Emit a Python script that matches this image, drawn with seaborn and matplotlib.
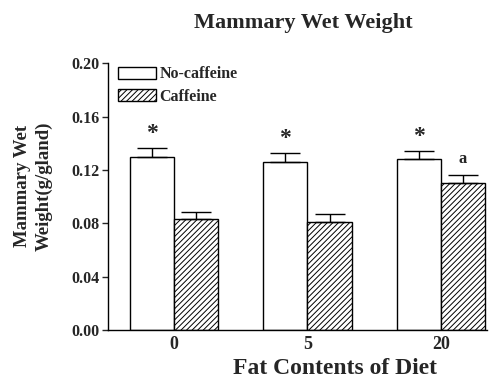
import numpy as np
import pandas as pd
import matplotlib
matplotlib.use("Agg")
import matplotlib.pyplot as plt
import seaborn as sns
from matplotlib.patches import Patch

# --- Data ---
diet = ['0', '5', '20']
groups = ['No-caffeine', 'Caffeine']
no_caffeine = [0.130, 0.126, 0.128]
caffeine = [0.083, 0.081, 0.110]
no_caffeine_err = [0.0062, 0.0067, 0.0062]
caffeine_err = [0.0057, 0.0060, 0.0060]
no_caffeine_marks = ['*', '*', '*']
caffeine_marks = ['', '', 'a']

df = pd.DataFrame({
    'diet': diet * 2,
    'group': [groups[0]] * 3 + [groups[1]] * 3,
    'weight': no_caffeine + caffeine,
})

sns.set_style("ticks")
plt.rcParams['font.family'] = ['Liberation Serif', 'DejaVu Serif']
plt.rcParams['font.weight'] = 'bold'
plt.rcParams['hatch.linewidth'] = 0.7

fig = plt.figure(figsize=(4.93, 3.78), dpi=100)
ax = fig.add_axes([0.219, 0.126, 0.769, 0.707])

sns.barplot(data=df, x='diet', y='weight', hue='group', order=diet,
            hue_order=groups, palette=['white', 'white'], edgecolor='black',
            linewidth=1.0, width=0.66, errorbar=None, legend=False, ax=ax)

# hatch the caffeine bars
for bar in ax.containers[1]:
    bar.set_hatch('//////')

# upper-only error bars + significance marks
series = [(no_caffeine, no_caffeine_err, no_caffeine_marks),
          (caffeine, caffeine_err, caffeine_marks)]
for cont, (vals, errs, marks) in zip(ax.containers, series):
    xs = [b.get_x() + b.get_width() / 2 for b in cont]
    ax.errorbar(xs, vals, yerr=[np.zeros(len(errs)), errs], fmt='none',
                ecolor='black', elinewidth=1.0, capsize=11, capthick=1.0)
    for x, v, e, m in zip(xs, vals, errs, marks):
        if m == '*':
            ax.text(x, v + e + 0.011, m, ha='center', va='center',
                    fontsize=17, fontweight='bold')
        elif m:
            ax.text(x, v + e + 0.012, m, ha='center', va='center',
                    fontsize=12, fontweight='bold')

ax.set_xlim(-0.494, 2.345)
ax.set_ylim(0, 0.20)
ax.set_yticks([0.00, 0.04, 0.08, 0.12, 0.16, 0.20])
ax.set_yticklabels(['0.00', '0.04', '0.08', '0.12', '0.16', '0.20'],
                   fontsize=11.5, fontweight='bold')
ax.set_xticks(range(len(diet)))
ax.set_xticklabels(diet, fontsize=13, fontweight='bold')
ax.tick_params(axis='x', length=0, pad=4)
ax.tick_params(axis='y', length=4, width=1, direction='out', pad=2)

sns.despine(ax=ax)
for s in ['left', 'bottom']:
    ax.spines[s].set_linewidth(1.0)
    ax.spines[s].set_color('black')

xl = ax.set_xlabel('Fat Contents of Diet', fontsize=17, fontweight='bold')
xl.set_va('baseline')
ax.xaxis.set_label_coords(0.6, -0.165)
ax.set_ylabel('Mammary Wet\nWeight(g/gland)', fontsize=13.5, fontweight='bold',
              linespacing=1.35)
ax.yaxis.set_label_coords(-0.145, 0.54)
fig.suptitle('Mammary Wet Weight', x=0.615, y=0.966, fontsize=16,
             fontweight='bold')

handles = [Patch(facecolor='white', edgecolor='black', linewidth=1.0),
           Patch(facecolor='white', edgecolor='black', linewidth=1.0,
                 hatch='//////')]
ax.legend(handles, groups, loc='upper left', bbox_to_anchor=(0.026, 0.988),
          frameon=False, fontsize=11.5, handlelength=2.4, handleheight=0.8,
          handletextpad=0.2, labelspacing=0.4, borderaxespad=0,
          borderpad=0)

fig.savefig('out.png', dpi=100)
